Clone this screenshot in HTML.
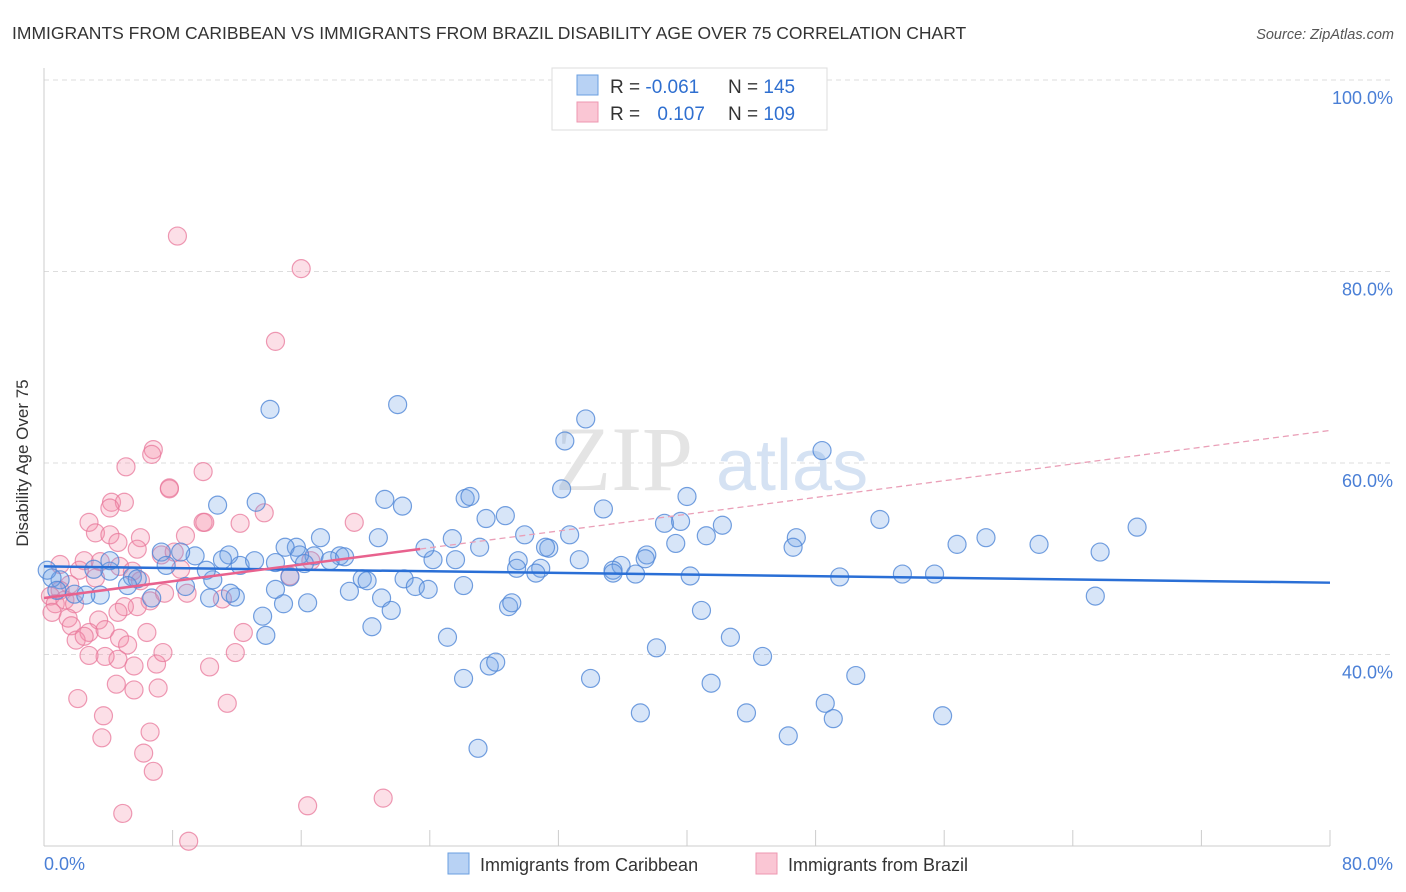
<!DOCTYPE html>
<html><head><meta charset="utf-8"><style>
body{margin:0;background:#fff;font-family:"Liberation Sans",sans-serif;}
svg{display:block}
</style></head><body>
<svg width="1406" height="892" xmlns="http://www.w3.org/2000/svg">
<text x="12" y="39" font-size="17.5" fill="#333">IMMIGRANTS FROM CARIBBEAN VS IMMIGRANTS FROM BRAZIL DISABILITY AGE OVER 75 CORRELATION CHART</text>
<text x="1394" y="39" font-size="14.5" fill="#555" font-style="italic" text-anchor="end">Source: ZipAtlas.com</text>
<g id="grid"></g>
<g>
<text x="555" y="490" font-size="92" font-family="Liberation Serif,serif" fill="#e4e4e4">ZIP</text>
<text x="716" y="490" font-size="72" fill="#d5e2f3">atlas</text>
</g>
<line x1="44" y1="68" x2="44" y2="846" stroke="#ccc"/>
<line x1="44" y1="846" x2="1330" y2="846" stroke="#ccc"/>
<g id="xticks"></g>
<g id="pts"></g>
<g id="trends"></g>
<text x="20" y="455" font-size="17" fill="#333" text-anchor="middle" transform="rotate(-90 28 455)">Disability Age Over 75</text>
<text x="44" y="870" font-size="18" fill="#4a7fd6">0.0%</text>
<text x="1393" y="870" font-size="18" fill="#4a7fd6" text-anchor="end">80.0%</text>
<g>
<rect x="552" y="68" width="275" height="62" fill="#fff" stroke="#ddd"/>
<rect x="577" y="75" width="21" height="20" fill="#b8d2f4" stroke="#6a9fe0"/>
<rect x="577" y="102" width="21" height="20" fill="#fac6d4" stroke="#ee97b0"/>
<text x="610" y="93" font-size="19" fill="#333">R = <tspan fill="#2f6fd0">-0.061</tspan></text>
<text x="728" y="93" font-size="19" fill="#333">N = <tspan fill="#2f6fd0">145</tspan></text>
<text x="610" y="120" font-size="19" fill="#333">R = <tspan fill="#2f6fd0" dx="12">0.107</tspan></text>
<text x="728" y="120" font-size="19" fill="#333">N = <tspan fill="#2f6fd0">109</tspan></text>
</g>
<g>
<rect x="448" y="853" width="21" height="21" fill="#b8d2f4" stroke="#6a9fe0"/>
<text x="480" y="871" font-size="18" fill="#333">Immigrants from Caribbean</text>
<rect x="756" y="853" width="21" height="21" fill="#fac6d4" stroke="#ee97b0"/>
<text x="788" y="871" font-size="18" fill="#333">Immigrants from Brazil</text>
</g>
</svg>
<script>
const yTicks=[40,60,80,100];
const yTickLabels=["40.0%","60.0%","80.0%","100.0%"];
const xTicks=[0,8,16,24,32,40,48,56,64,72,80];
const blueX=[14.06,22.0,33.7,32.4,48.4,32.2,10.8,13.2,21.2,22.3,26.2,26.5,28.7,27.5,34.8,40.0,38.6,39.6,42.2,52.0,68.0,58.6,56.8,61.9,65.7,46.8,46.6,41.2,39.3,37.5,37.4,35.9,35.4,33.3,32.7,31.4,31.2,29.9,29.5,29.4,30.9,30.6,25.6,25.4,24.2,23.7,20.8,17.2,15.7,15.0,16.8,18.4,17.8,18.7,15.9,16.2,11.5,12.2,13.1,10.5,11.1,9.4,8.5,7.3,7.6,10.1,15.3,19.8,20.1,19.0,22.4,23.1,23.9,21.0,21.6,20.4,16.4,14.9,14.4,14.4,13.6,13.8,11.9,11.6,10.3,8.8,6.7,5.5,5.8,5.2,4.1,3.1,4.1,3.5,1.0,0.2,0.5,0.8,1.9,2.6,25.1,28.9,29.1,26.1,27.7,28.1,27.0,34.0,38.1,37.1,40.9,40.2,41.5,42.7,43.7,44.7,46.3,48.6,49.1,49.5,50.5,53.4,55.4,55.9,65.4,36.8,35.4,27.1,26.1];
const blueY=[65.6,66.1,64.6,62.3,61.3,57.3,55.6,55.9,56.2,55.5,56.3,56.5,54.5,54.2,55.2,56.5,53.7,53.9,53.5,54.1,53.3,52.2,51.5,51.5,50.7,52.2,51.2,52.4,51.6,50.4,50.0,49.3,48.8,49.9,52.5,51.1,51.2,52.5,49.8,49.0,49.0,48.5,49.9,52.1,49.9,51.1,52.2,52.2,51.2,51.2,50.3,50.3,49.8,50.2,50.4,49.5,50.4,49.3,49.8,47.8,49.9,50.3,50.7,50.7,49.3,48.8,48.1,47.9,47.7,46.6,47.9,47.1,46.8,45.9,44.6,42.9,45.4,45.3,46.8,49.6,44.0,42.0,46.0,46.4,45.9,47.1,45.9,48.1,47.9,47.2,48.7,48.9,49.8,46.2,47.8,48.8,48.0,46.7,46.3,46.2,41.8,45.0,45.4,37.5,38.8,39.2,30.2,37.5,40.7,33.9,44.6,48.2,37.0,41.8,33.9,39.8,31.5,34.9,33.3,48.1,37.8,48.4,48.4,33.6,46.1,48.4,48.5,51.2,47.2];
const pinkX=[8.3,16.0,14.4,6.8,6.7,5.1,9.9,7.8,4.2,5.0,4.1,9.9,12.2,13.7,19.3,2.8,3.2,4.1,6.0,8.8,4.6,5.8,7.3,8.1,15.3,16.6,3.5,4.7,5.5,8.5,6.0,6.6,5.8,5.0,7.5,8.9,11.1,2.2,3.2,1.6,1.0,0.4,0.7,1.3,1.9,0.5,1.5,1.7,3.4,4.6,2.8,3.8,2.0,2.5,4.7,6.4,5.2,4.6,3.8,2.8,5.6,7.0,7.4,10.3,11.9,12.4,4.5,5.6,7.1,2.1,3.7,3.6,11.4,6.6,6.2,6.8,4.9,9.0,16.4,21.1,10.0,7.8,1.0,2.5];
const pinkY=[83.7,80.3,72.7,61.4,60.9,59.6,59.1,57.4,55.9,55.9,55.3,53.8,53.7,54.8,53.8,53.8,52.7,52.5,52.2,52.4,51.7,51.0,50.4,50.7,48.2,49.8,49.7,49.2,48.7,48.9,47.7,45.6,45.0,45.0,46.4,46.4,45.8,48.8,48.0,47.3,46.7,46.1,45.3,45.7,45.3,44.4,43.8,43.0,43.6,44.4,42.3,42.6,41.5,41.9,41.7,42.3,41.0,39.5,39.8,39.9,38.8,39.0,40.2,38.7,40.2,42.3,36.9,36.3,36.5,35.4,33.6,31.3,34.9,31.9,29.7,27.8,23.4,20.5,24.2,25.0,53.8,57.3,49.4,49.8];
const blueTrend=[49.2,47.5];
const pinkTrend=[45.9,63.4];
const pinkSolidEnd=23.4;

const NS="http://www.w3.org/2000/svg";
const sx=v=>44+v/80*1286;
const sy=v=>1037.5-v*9.575;
function mk(tag,attrs,parent){const e=document.createElementNS(NS,tag);for(const k in attrs)e.setAttribute(k,attrs[k]);parent.appendChild(e);return e;}
const grid=document.getElementById('grid');
yTicks.forEach((t,i)=>{
  const l=mk('line',{x1:44,x2:1393,y1:sy(t),y2:sy(t),stroke:'#ddd','stroke-dasharray':'5,4'},grid);
  
  
  const tx=mk('text',{x:1393,y:sy(t)+24,'font-size':18,fill:'#4a7fd6','text-anchor':'end'},grid);
  tx.textContent=yTickLabels[i];
  
  
});
const xt=document.getElementById('xticks');
xTicks.forEach(t=>{
  const l=mk('line',{x1:sx(t),x2:sx(t),y1:830,y2:846,stroke:'#ccc'},xt);
  
  
});
const pts=document.getElementById('pts');
pinkX.forEach((x,i)=>{
  const c=mk('circle',{cx:sx(x),cy:sy(pinkY[i]),r:9,fill:'rgba(244,140,170,0.28)',stroke:'rgba(232,120,155,0.75)','stroke-width':1.2},pts);
  
  
});
blueX.forEach((x,i)=>{
  const c=mk('circle',{cx:sx(x),cy:sy(blueY[i]),r:9,fill:'rgba(110,160,230,0.28)',stroke:'rgba(80,135,215,0.8)','stroke-width':1.2},pts);
  
  
});
const tr=document.getElementById('trends');
const pAt=x=>pinkTrend[0]+(pinkTrend[1]-pinkTrend[0])*x/80;
let l1=mk('line',{x1:sx(0),y1:sy(blueTrend[0]),x2:sx(80),y2:sy(blueTrend[1]),stroke:'#2a6fd6','stroke-width':2.5},tr);


let l2=mk('line',{x1:sx(0),y1:sy(pAt(0)),x2:sx(pinkSolidEnd),y2:sy(pAt(pinkSolidEnd)),stroke:'#e8628e','stroke-width':2.5},tr);


let l3=mk('line',{x1:sx(pinkSolidEnd),y1:sy(pAt(pinkSolidEnd)),x2:sx(80),y2:sy(pAt(80)),stroke:'#eaa0b8','stroke-width':1.3,'stroke-dasharray':'6,4'},tr);


</script>
</body></html>
